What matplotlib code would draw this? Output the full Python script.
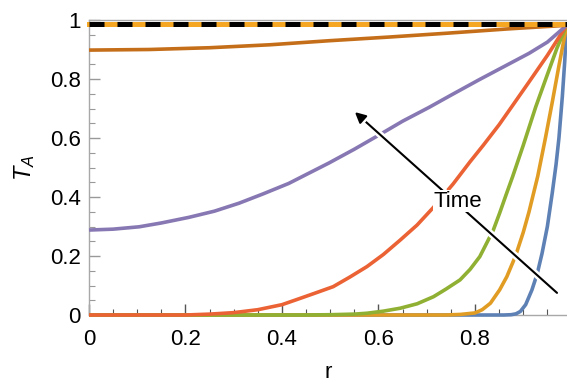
import matplotlib
matplotlib.use('Agg')
import matplotlib.pyplot as plt
import matplotlib.patheffects as pe
from matplotlib.ticker import MultipleLocator, FixedLocator

plt.rcParams['font.family'] = ['Liberation Sans', 'DejaVu Sans']
plt.rcParams['mathtext.fontset'] = 'custom'
plt.rcParams['mathtext.it'] = 'Liberation Sans:italic'
plt.rcParams['mathtext.rm'] = 'Liberation Sans'

# perfiles (r, T_A), de t pequeno a t grande
r_azul = [0, 0.86, 0.875, 0.885, 0.894, 0.905, 0.918, 0.929, 0.939, 0.950, 0.960, 0.968, 0.974, 0.981, 0.986, 0.99]
t_azul = [0, 0, 0.001, 0.004, 0.012, 0.035, 0.085, 0.14, 0.209, 0.30, 0.412, 0.51, 0.60, 0.74, 0.86, 0.982]

r_naranja = [0, 0.74, 0.77, 0.80, 0.815, 0.832, 0.851, 0.866, 0.884, 0.90, 0.912, 0.93, 0.946, 0.96, 0.974, 0.99]
t_naranja = [0, 0, 0.002, 0.007, 0.018, 0.04, 0.085, 0.13, 0.20, 0.28, 0.35, 0.47, 0.60, 0.72, 0.845, 0.982]

r_verde = [0, 0.45, 0.5, 0.55, 0.576, 0.61, 0.645, 0.68, 0.714, 0.74, 0.769, 0.79, 0.81, 0.838, 0.851,
           0.865, 0.878, 0.90, 0.926, 0.95, 0.97, 0.99]
t_verde = [0, 0, 0.001, 0.003, 0.006, 0.013, 0.023, 0.038, 0.062, 0.088, 0.119, 0.155, 0.198, 0.288, 0.345,
           0.41, 0.469, 0.575, 0.706, 0.815, 0.905, 0.982]

r_rojo = [0, 0.2, 0.25, 0.3, 0.35, 0.4, 0.437, 0.47, 0.506, 0.54, 0.576, 0.61, 0.645, 0.68, 0.714,
          0.755, 0.79, 0.817, 0.85, 0.88, 0.912, 0.95, 0.99]
t_rojo = [0, 0, 0.003, 0.008, 0.018, 0.035, 0.056, 0.075, 0.096, 0.128, 0.164, 0.205, 0.254, 0.305, 0.365,
          0.445, 0.52, 0.575, 0.645, 0.715, 0.79, 0.88, 0.982]

r_morado = [0, 0.05, 0.104, 0.15, 0.207, 0.26, 0.311, 0.36, 0.414, 0.45, 0.497, 0.55, 0.601, 0.65,
            0.705, 0.75, 0.808, 0.86, 0.912, 0.95, 0.99]
t_morado = [0.288, 0.291, 0.299, 0.312, 0.331, 0.352, 0.379, 0.41, 0.446, 0.476, 0.515, 0.562, 0.610, 0.657,
            0.704, 0.745, 0.797, 0.842, 0.887, 0.925, 0.982]

r_cafe = [0, 0.125, 0.25, 0.375, 0.5, 0.62, 0.74, 0.87, 0.99]
t_cafe = [0.898, 0.90, 0.906, 0.916, 0.93, 0.942, 0.955, 0.97, 0.982]

r_estac = [0, 0.99]
t_estac = [0.985, 0.985]

curvas = [(r_azul, t_azul, '#5E81B5'),
          (r_naranja, t_naranja, '#E19C24'),
          (r_verde, t_verde, '#8FB032'),
          (r_rojo, t_rojo, '#EB6235'),
          (r_morado, t_morado, '#8778B3'),
          (r_cafe, t_cafe, '#C56E1A')]

fig = plt.figure(figsize=(5.67, 3.85), dpi=100)
ax = fig.add_axes([89 / 567, 70 / 385, 478 / 567, 295 / 385])

for i, (r, t, c) in enumerate(curvas):
    ax.plot(r, t, color=c, lw=2.6, zorder=3 + i, clip_on=False,
            solid_capstyle='butt', solid_joinstyle='round')

# estado estacionario
ax.plot(r_estac, t_estac, color='#F5A623', lw=3.6, zorder=10, clip_on=False)
ax.plot(r_estac, t_estac, color='black', lw=3.6, dashes=(3, 2.6), zorder=11, clip_on=False)

# flecha del tiempo
flecha = ax.annotate('', xy=(0.551, 0.688), xytext=(0.97, 0.075),
                     arrowprops=dict(arrowstyle='-|>', color='black', lw=1.5,
                                     mutation_scale=16, shrinkA=0, shrinkB=0),
                     zorder=20)
flecha.arrow_patch.set_path_effects([pe.Stroke(linewidth=5, foreground='white'), pe.Normal()])
ax.text(0.765, 0.386, 'Time', fontsize=16, ha='center', va='center', zorder=21,
        bbox=dict(fc='white', ec='none', pad=0.5))

ax.set_xlim(0, 0.9907)
ax.set_ylim(0, 1)

ax.spines['right'].set_visible(False)
for lado in ['left', 'bottom', 'top']:
    ax.spines[lado].set_color('#a8a8a8')
    ax.spines[lado].set_linewidth(1.0)

ax.xaxis.set_major_locator(FixedLocator([0, 0.2, 0.4, 0.6, 0.8]))
ax.xaxis.set_minor_locator(MultipleLocator(0.05))
ax.yaxis.set_major_locator(FixedLocator([0, 0.2, 0.4, 0.6, 0.8, 1.0]))
ax.yaxis.set_minor_locator(MultipleLocator(0.05))
ax.set_xticklabels(['0', '0.2', '0.4', '0.6', '0.8'])
ax.set_yticklabels(['0', '0.2', '0.4', '0.6', '0.8', '1'])

ax.tick_params(which='both', direction='in', top=False, right=False, labelsize=16)
ax.tick_params(axis='x', which='major', length=8, width=1, color='#555555', pad=10)
ax.tick_params(axis='x', which='minor', length=4.3, width=0.8, color='#555555')
ax.tick_params(axis='y', which='major', length=8, width=1, color='#999999', pad=6)
ax.tick_params(axis='y', which='minor', length=4.3, width=0.8, color='#999999')

ax.set_xlabel('r', fontsize=16, labelpad=9)
ax.set_ylabel('$T_A$', fontsize=17, labelpad=9)

fig.savefig('out.png', dpi=100)
